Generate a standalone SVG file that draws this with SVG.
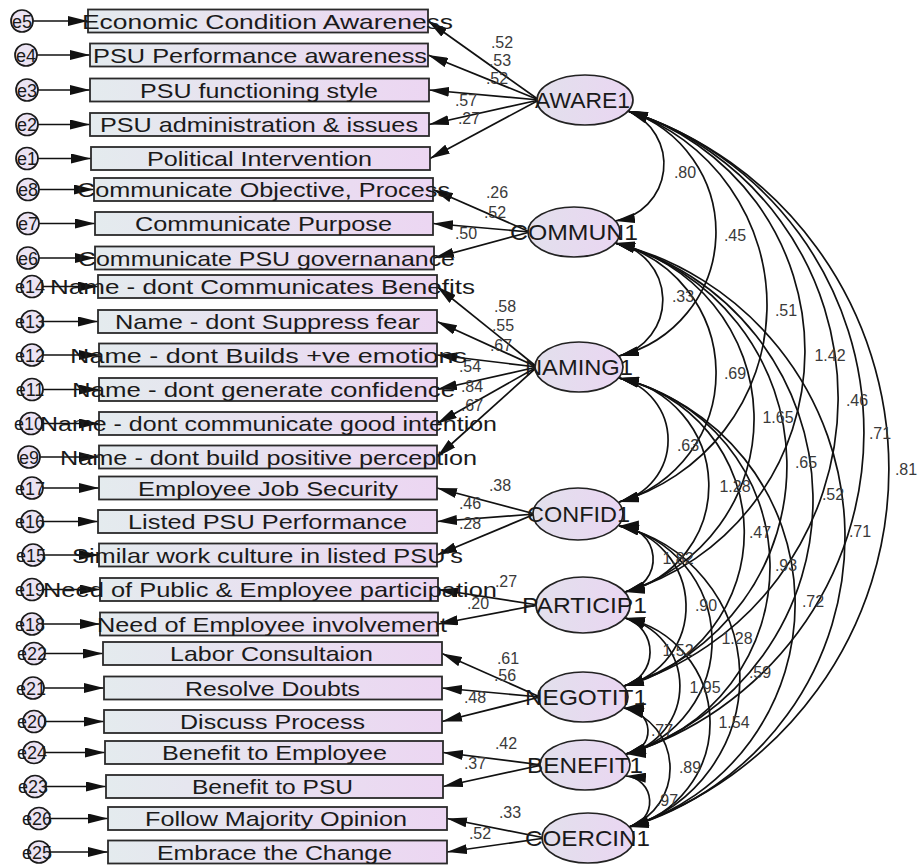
<svg xmlns="http://www.w3.org/2000/svg" width="919" height="866" viewBox="0 0 919 866">
<style>
.bx{fill:url(#gb);stroke:#2a2a2a;stroke-width:1.8}
.el{fill:url(#ge);stroke:#222;stroke-width:1.7}
.er{fill:#ebe3f3;stroke:#1a1a1a;stroke-width:1.7}
.bt{font-family:"Liberation Sans",Arial,sans-serif;font-size:21px;fill:#1a1a1a}
.lt{font-family:"Liberation Sans",Arial,sans-serif;font-size:22px;fill:#1a1a1a}
.et{font-family:"Liberation Sans",Arial,sans-serif;font-size:18px;fill:#1a1a1a;text-anchor:middle}
.nm{font-family:"Liberation Sans",Arial,sans-serif;font-size:16px;fill:#3a3a3a;text-anchor:middle}
.ln{fill:none;stroke:#111;stroke-width:1.7;marker-end:url(#ah)}
.cv{fill:none;stroke:#111;stroke-width:1.7;marker-start:url(#ah);marker-end:url(#ah)}
</style>
<defs>
<linearGradient id="gb" x1="0" y1="0" x2="1" y2="0"><stop offset="0" stop-color="#e4ebee"/><stop offset="1" stop-color="#ecd6f2"/></linearGradient>
<linearGradient id="ge" x1="0" y1="0" x2="1" y2="0"><stop offset="0" stop-color="#e2e0ec"/><stop offset="1" stop-color="#ead6f2"/></linearGradient>
<marker id="ah" viewBox="0 0 20 10" refX="20" refY="5" markerWidth="20" markerHeight="10" markerUnits="userSpaceOnUse" orient="auto-start-reverse"><path d="M0,0 L20,5 L0,10 z" fill="#111"/></marker>
</defs>
<rect width="919" height="866" fill="#fff"/>
<g id="connectors">
<line class="ln" x1="33" y1="21" x2="88" y2="21"/>
<line class="ln" x1="37" y1="55" x2="90" y2="55"/>
<line class="ln" x1="38" y1="90" x2="90" y2="90"/>
<line class="ln" x1="38" y1="124.5" x2="90" y2="124.5"/>
<line class="ln" x1="38" y1="158.5" x2="91" y2="158.5"/>
<line class="ln" x1="39" y1="189.5" x2="94" y2="189.5"/>
<line class="ln" x1="39" y1="223.5" x2="95" y2="223.5"/>
<line class="ln" x1="39" y1="258" x2="95" y2="258"/>
<line class="ln" x1="43" y1="286.5" x2="98" y2="286.5"/>
<line class="ln" x1="43" y1="321.5" x2="98" y2="321.5"/>
<line class="ln" x1="43" y1="355" x2="99" y2="355"/>
<line class="ln" x1="43" y1="389.5" x2="99" y2="389.5"/>
<line class="ln" x1="42" y1="423.5" x2="99" y2="423.5"/>
<line class="ln" x1="40" y1="457" x2="99" y2="457"/>
<line class="ln" x1="43" y1="488" x2="99" y2="488"/>
<line class="ln" x1="43" y1="521.5" x2="98" y2="521.5"/>
<line class="ln" x1="44" y1="555" x2="99" y2="555"/>
<line class="ln" x1="43" y1="589.5" x2="100" y2="589.5"/>
<line class="ln" x1="43" y1="624" x2="100" y2="624"/>
<line class="ln" x1="45" y1="653.5" x2="103" y2="653.5"/>
<line class="ln" x1="44" y1="688" x2="104" y2="688"/>
<line class="ln" x1="45" y1="721.5" x2="104" y2="721.5"/>
<line class="ln" x1="45" y1="752.5" x2="105" y2="752.5"/>
<line class="ln" x1="46" y1="786.5" x2="106" y2="786.5"/>
<line class="ln" x1="50" y1="818.5" x2="108" y2="818.5"/>
<line class="ln" x1="50" y1="852" x2="108" y2="852"/>
<line class="ln" x1="539" y1="100" x2="428" y2="21"/>
<line class="ln" x1="539" y1="100" x2="428" y2="55"/>
<line class="ln" x1="539" y1="100" x2="429" y2="90"/>
<line class="ln" x1="539" y1="100" x2="429" y2="124.5"/>
<line class="ln" x1="539" y1="100" x2="430" y2="158.5"/>
<line class="ln" x1="530" y1="232" x2="433" y2="189.5"/>
<line class="ln" x1="530" y1="232" x2="433" y2="223.5"/>
<line class="ln" x1="530" y1="232" x2="434" y2="258"/>
<line class="ln" x1="537" y1="367" x2="437" y2="286.5"/>
<line class="ln" x1="537" y1="367" x2="437" y2="321.5"/>
<line class="ln" x1="537" y1="367" x2="437" y2="355"/>
<line class="ln" x1="537" y1="367" x2="437" y2="389.5"/>
<line class="ln" x1="537" y1="367" x2="437" y2="423.5"/>
<line class="ln" x1="537" y1="367" x2="437" y2="457"/>
<line class="ln" x1="535" y1="514" x2="437" y2="488"/>
<line class="ln" x1="535" y1="514" x2="437" y2="521.5"/>
<line class="ln" x1="535" y1="514" x2="437" y2="555"/>
<line class="ln" x1="538" y1="605" x2="438" y2="589.5"/>
<line class="ln" x1="538" y1="605" x2="438" y2="624"/>
<line class="ln" x1="540" y1="697" x2="442" y2="653.5"/>
<line class="ln" x1="540" y1="697" x2="442" y2="688"/>
<line class="ln" x1="540" y1="697" x2="442" y2="721.5"/>
<line class="ln" x1="542" y1="765" x2="443" y2="752.5"/>
<line class="ln" x1="542" y1="765" x2="443" y2="786.5"/>
<line class="ln" x1="545" y1="838" x2="447" y2="818.5"/>
<line class="ln" x1="545" y1="838" x2="447" y2="852"/>
<path class="cv" d="M628,111 A57.4,57.4 0 0 1 615,221"/>
<path class="cv" d="M628,111 A127.5,127.5 0 0 1 619,356"/>
<path class="cv" d="M628,111 A205,205 0 0 1 619,502"/>
<path class="cv" d="M628,111 A251.3,251.3 0 0 1 625,592"/>
<path class="cv" d="M628,111 A300.9,300.9 0 0 1 624,686"/>
<path class="cv" d="M628,111 A336.6,336.6 0 0 1 626,754"/>
<path class="cv" d="M628,111 A376.3,376.3 0 0 1 629,827"/>
<path class="cv" d="M615,243 A57.8,57.8 0 0 1 619,356"/>
<path class="cv" d="M615,243 A134.2,134.2 0 0 1 619,502"/>
<path class="cv" d="M615,243 A180.7,180.7 0 0 1 625,592"/>
<path class="cv" d="M615,243 A230.3,230.3 0 0 1 624,686"/>
<path class="cv" d="M615,243 A265.9,265.9 0 0 1 626,754"/>
<path class="cv" d="M615,243 A302.8,302.8 0 0 1 629,827"/>
<path class="cv" d="M619,378 A63.7,63.7 0 0 1 619,502"/>
<path class="cv" d="M619,378 A109.4,109.4 0 0 1 625,592"/>
<path class="cv" d="M619,378 A158,158 0 0 1 624,686"/>
<path class="cv" d="M619,378 A193.6,193.6 0 0 1 626,754"/>
<path class="cv" d="M619,378 A232.9,232.9 0 0 1 629,827"/>
<path class="cv" d="M619,526 A33.2,33.2 0 0 1 625,592"/>
<path class="cv" d="M619,526 A81.9,81.9 0 0 1 624,686"/>
<path class="cv" d="M619,526 A117.4,117.4 0 0 1 626,754"/>
<path class="cv" d="M619,526 A155.8,155.8 0 0 1 629,827"/>
<path class="cv" d="M625,618 A35.4,35.4 0 0 1 624,686"/>
<path class="cv" d="M625,618 A69.7,69.7 0 0 1 626,754"/>
<path class="cv" d="M625,618 A107.3,107.3 0 0 1 629,827"/>
<path class="cv" d="M624,708 A23,23 0 0 1 626,754"/>
<path class="cv" d="M624,708 A62.5,62.5 0 0 1 629,827"/>
<path class="cv" d="M626,776 A25.8,25.8 0 0 1 629,827"/>
<g id="loading-labels">
<text class="nm" x="502" y="48">.52</text>
<text class="nm" x="500" y="66">.53</text>
<text class="nm" x="497" y="84">.52</text>
<text class="nm" x="466" y="106">.57</text>
<text class="nm" x="469" y="124">.27</text>
<text class="nm" x="497" y="198">.26</text>
<text class="nm" x="495" y="218">.52</text>
<text class="nm" x="466" y="239">.50</text>
<text class="nm" x="505" y="312">.58</text>
<text class="nm" x="503" y="331">.55</text>
<text class="nm" x="501" y="351">.67</text>
<text class="nm" x="470" y="372">.54</text>
<text class="nm" x="472" y="392">.84</text>
<text class="nm" x="472" y="411">.67</text>
<text class="nm" x="500" y="491">.38</text>
<text class="nm" x="470" y="509">.46</text>
<text class="nm" x="470" y="529">.28</text>
<text class="nm" x="506" y="587">.27</text>
<text class="nm" x="478" y="609">.20</text>
<text class="nm" x="508" y="664">.61</text>
<text class="nm" x="505" y="681">.56</text>
<text class="nm" x="475" y="703">.48</text>
<text class="nm" x="506" y="749">.42</text>
<text class="nm" x="475" y="769">.37</text>
<text class="nm" x="510" y="818">.33</text>
<text class="nm" x="480" y="839">.52</text>
</g>
<g id="covariance-labels">
<text class="nm" x="685" y="178">.80</text>
<text class="nm" x="735" y="241">.45</text>
<text class="nm" x="786" y="316">.51</text>
<text class="nm" x="830" y="361">1.42</text>
<text class="nm" x="857" y="406">.46</text>
<text class="nm" x="880" y="439">.71</text>
<text class="nm" x="906" y="475">.81</text>
<text class="nm" x="683" y="302">.33</text>
<text class="nm" x="735" y="379">.69</text>
<text class="nm" x="778" y="423">1.65</text>
<text class="nm" x="806" y="468">.65</text>
<text class="nm" x="833" y="500">.52</text>
<text class="nm" x="860" y="537">.71</text>
<text class="nm" x="688" y="451">.63</text>
<text class="nm" x="735" y="492">1.28</text>
<text class="nm" x="760" y="538">.47</text>
<text class="nm" x="786" y="571">.93</text>
<text class="nm" x="813" y="607">.72</text>
<text class="nm" x="678" y="564">1.82</text>
<text class="nm" x="706" y="611">.90</text>
<text class="nm" x="737" y="644">1.28</text>
<text class="nm" x="760" y="678">.59</text>
<text class="nm" x="678" y="656">1.52</text>
<text class="nm" x="705" y="693">1.95</text>
<text class="nm" x="734" y="728">1.54</text>
<text class="nm" x="662" y="736">.77</text>
<text class="nm" x="690" y="773">.89</text>
<text class="nm" x="667" y="806">.97</text>
</g>
</g>
<g id="errors">
<g id="e5"><circle class="er" cx="22" cy="21" r="11"/><text class="et" x="22" y="27.5">e5</text></g>
<g id="e4"><circle class="er" cx="26" cy="55" r="11"/><text class="et" x="26" y="61.5">e4</text></g>
<g id="e3"><circle class="er" cx="27" cy="90" r="11"/><text class="et" x="27" y="96.5">e3</text></g>
<g id="e2"><circle class="er" cx="27" cy="124.5" r="11"/><text class="et" x="27" y="131">e2</text></g>
<g id="e1"><circle class="er" cx="27" cy="158.5" r="11"/><text class="et" x="27" y="165">e1</text></g>
<g id="e8"><circle class="er" cx="28" cy="189.5" r="11"/><text class="et" x="28" y="196">e8</text></g>
<g id="e7"><circle class="er" cx="28" cy="223.5" r="11"/><text class="et" x="28" y="230">e7</text></g>
<g id="e6"><circle class="er" cx="28" cy="258" r="11"/><text class="et" x="28" y="264.5">e6</text></g>
<g id="e14"><circle class="er" cx="32" cy="286.5" r="11"/><text class="et" x="30" y="293">e14</text></g>
<g id="e13"><circle class="er" cx="32" cy="321.5" r="11"/><text class="et" x="30" y="328">e13</text></g>
<g id="e12"><circle class="er" cx="32" cy="355" r="11"/><text class="et" x="30" y="361.5">e12</text></g>
<g id="e11"><circle class="er" cx="32" cy="389.5" r="11"/><text class="et" x="30" y="396">e11</text></g>
<g id="e10"><circle class="er" cx="31" cy="423.5" r="11"/><text class="et" x="29" y="430">e10</text></g>
<g id="e9"><circle class="er" cx="29" cy="457" r="11"/><text class="et" x="29" y="463.5">e9</text></g>
<g id="e17"><circle class="er" cx="32" cy="488" r="11"/><text class="et" x="30" y="494.5">e17</text></g>
<g id="e16"><circle class="er" cx="32" cy="521.5" r="11"/><text class="et" x="30" y="528">e16</text></g>
<g id="e15"><circle class="er" cx="33" cy="555" r="11"/><text class="et" x="31" y="561.5">e15</text></g>
<g id="e19"><circle class="er" cx="32" cy="589.5" r="11"/><text class="et" x="30" y="596">e19</text></g>
<g id="e18"><circle class="er" cx="32" cy="624" r="11"/><text class="et" x="30" y="630.5">e18</text></g>
<g id="e22"><circle class="er" cx="34" cy="653.5" r="11"/><text class="et" x="32" y="660">e22</text></g>
<g id="e21"><circle class="er" cx="33" cy="688" r="11"/><text class="et" x="31" y="694.5">e21</text></g>
<g id="e20"><circle class="er" cx="34" cy="721.5" r="11"/><text class="et" x="32" y="728">e20</text></g>
<g id="e24"><circle class="er" cx="34" cy="752.5" r="11"/><text class="et" x="32" y="759">e24</text></g>
<g id="e23"><circle class="er" cx="35" cy="786.5" r="11"/><text class="et" x="33" y="793">e23</text></g>
<g id="e26"><circle class="er" cx="39" cy="818.5" r="11"/><text class="et" x="37" y="825">e26</text></g>
<g id="e25"><circle class="er" cx="39" cy="852" r="11"/><text class="et" x="37" y="858.5">e25</text></g>
</g>
<g id="indicators">
<g id="v1"><rect class="bx" x="88" y="9.5" width="340" height="23"/><text class="bt" x="82" y="28.5" textLength="371" lengthAdjust="spacingAndGlyphs">Economic Condition Awareness</text></g>
<g id="v2"><rect class="bx" x="90" y="43.5" width="338" height="23"/><text class="bt" x="93" y="62.5" textLength="334" lengthAdjust="spacingAndGlyphs">PSU Performance awareness</text></g>
<g id="v3"><rect class="bx" x="90" y="78.5" width="339" height="23"/><text class="bt" x="140" y="97.5" textLength="238" lengthAdjust="spacingAndGlyphs">PSU functioning style</text></g>
<g id="v4"><rect class="bx" x="90" y="113" width="339" height="23"/><text class="bt" x="100" y="132" textLength="318" lengthAdjust="spacingAndGlyphs">PSU administration &amp; issues</text></g>
<g id="v5"><rect class="bx" x="91" y="147" width="339" height="23"/><text class="bt" x="147" y="166" textLength="225" lengthAdjust="spacingAndGlyphs">Political Intervention</text></g>
<g id="v6"><rect class="bx" x="94" y="178" width="339" height="23"/><text class="bt" x="77" y="197" textLength="373" lengthAdjust="spacingAndGlyphs">Communicate Objective, Process</text></g>
<g id="v7"><rect class="bx" x="95" y="212" width="338" height="23"/><text class="bt" x="135" y="231" textLength="257" lengthAdjust="spacingAndGlyphs">Communicate Purpose</text></g>
<g id="v8"><rect class="bx" x="95" y="246.5" width="339" height="23"/><text class="bt" x="78" y="265.5" textLength="377" lengthAdjust="spacingAndGlyphs">Communicate PSU governanance</text></g>
<g id="v9"><rect class="bx" x="98" y="275" width="339" height="23"/><text class="bt" x="50" y="294" textLength="425" lengthAdjust="spacingAndGlyphs">Name - dont Communicates Benefits</text></g>
<g id="v10"><rect class="bx" x="98" y="310" width="339" height="23"/><text class="bt" x="115" y="329" textLength="305" lengthAdjust="spacingAndGlyphs">Name - dont Suppress fear</text></g>
<g id="v11"><rect class="bx" x="99" y="343.5" width="338" height="23"/><text class="bt" x="70" y="362.5" textLength="397" lengthAdjust="spacingAndGlyphs">Name - dont Builds +ve emotions</text></g>
<g id="v12"><rect class="bx" x="99" y="378" width="338" height="23"/><text class="bt" x="72" y="397" textLength="383" lengthAdjust="spacingAndGlyphs">Name - dont generate confidence</text></g>
<g id="v13"><rect class="bx" x="99" y="412" width="338" height="23"/><text class="bt" x="40" y="431" textLength="457" lengthAdjust="spacingAndGlyphs">Name - dont communicate good intention</text></g>
<g id="v14"><rect class="bx" x="99" y="445.5" width="338" height="23"/><text class="bt" x="60" y="464.5" textLength="417" lengthAdjust="spacingAndGlyphs">Name - dont build positive perception</text></g>
<g id="v15"><rect class="bx" x="99" y="476.5" width="338" height="23"/><text class="bt" x="138" y="495.5" textLength="260" lengthAdjust="spacingAndGlyphs">Employee Job Security</text></g>
<g id="v16"><rect class="bx" x="98" y="510" width="339" height="23"/><text class="bt" x="128" y="529" textLength="279" lengthAdjust="spacingAndGlyphs">Listed PSU Performance</text></g>
<g id="v17"><rect class="bx" x="99" y="543.5" width="338" height="23"/><text class="bt" x="72" y="562.5" textLength="391" lengthAdjust="spacingAndGlyphs">Similar work culture in listed PSU's</text></g>
<g id="v18"><rect class="bx" x="100" y="578" width="338" height="23"/><text class="bt" x="43" y="597" textLength="454" lengthAdjust="spacingAndGlyphs">Need of Public &amp; Employee participation</text></g>
<g id="v19"><rect class="bx" x="100" y="612.5" width="338" height="23"/><text class="bt" x="97" y="631.5" textLength="350" lengthAdjust="spacingAndGlyphs">Need of Employee involvement</text></g>
<g id="v20"><rect class="bx" x="103" y="642" width="339" height="23"/><text class="bt" x="170" y="661" textLength="203" lengthAdjust="spacingAndGlyphs">Labor Consultaion</text></g>
<g id="v21"><rect class="bx" x="104" y="676.5" width="338" height="23"/><text class="bt" x="185" y="695.5" textLength="175" lengthAdjust="spacingAndGlyphs">Resolve Doubts</text></g>
<g id="v22"><rect class="bx" x="104" y="710" width="338" height="23"/><text class="bt" x="180" y="729" textLength="185" lengthAdjust="spacingAndGlyphs">Discuss Process</text></g>
<g id="v23"><rect class="bx" x="105" y="741" width="338" height="23"/><text class="bt" x="162" y="760" textLength="225" lengthAdjust="spacingAndGlyphs">Benefit to Employee</text></g>
<g id="v24"><rect class="bx" x="106" y="775" width="337" height="23"/><text class="bt" x="192" y="794" textLength="161" lengthAdjust="spacingAndGlyphs">Benefit to PSU</text></g>
<g id="v25"><rect class="bx" x="108" y="807" width="339" height="23"/><text class="bt" x="145" y="826" textLength="262" lengthAdjust="spacingAndGlyphs">Follow Majority Opinion</text></g>
<g id="v26"><rect class="bx" x="108" y="840.5" width="339" height="23"/><text class="bt" x="157" y="859.5" textLength="235" lengthAdjust="spacingAndGlyphs">Embrace the Change</text></g>
</g>
<g id="latents">
<g id="AWARE1"><ellipse class="el" cx="585" cy="100" rx="48" ry="25"/><text class="lt" x="535" y="108" textLength="95" lengthAdjust="spacingAndGlyphs">AWARE1</text></g>
<g id="COMMUN1"><ellipse class="el" cx="574" cy="232" rx="46" ry="25"/><text class="lt" x="510" y="240" textLength="128" lengthAdjust="spacingAndGlyphs">COMMUN1</text></g>
<g id="NAMING1"><ellipse class="el" cx="579" cy="367" rx="44" ry="25"/><text class="lt" x="525" y="375" textLength="108" lengthAdjust="spacingAndGlyphs">NAMING1</text></g>
<g id="CONFID1"><ellipse class="el" cx="578" cy="514" rx="45" ry="26"/><text class="lt" x="527" y="522" textLength="103" lengthAdjust="spacingAndGlyphs">CONFID1</text></g>
<g id="PARTICIP1"><ellipse class="el" cx="583" cy="605" rx="47" ry="28"/><text class="lt" x="522" y="613" textLength="125" lengthAdjust="spacingAndGlyphs">PARTICIP1</text></g>
<g id="NEGOTIT1"><ellipse class="el" cx="583" cy="697" rx="45" ry="25"/><text class="lt" x="525" y="705" textLength="122" lengthAdjust="spacingAndGlyphs">NEGOTIT1</text></g>
<g id="BENEFIT1"><ellipse class="el" cx="585" cy="765" rx="45" ry="25"/><text class="lt" x="527" y="773" textLength="116" lengthAdjust="spacingAndGlyphs">BENEFIT1</text></g>
<g id="COERCIN1"><ellipse class="el" cx="588" cy="838" rx="46" ry="25"/><text class="lt" x="525" y="846" textLength="125" lengthAdjust="spacingAndGlyphs">COERCIN1</text></g>
</g>
</svg>
